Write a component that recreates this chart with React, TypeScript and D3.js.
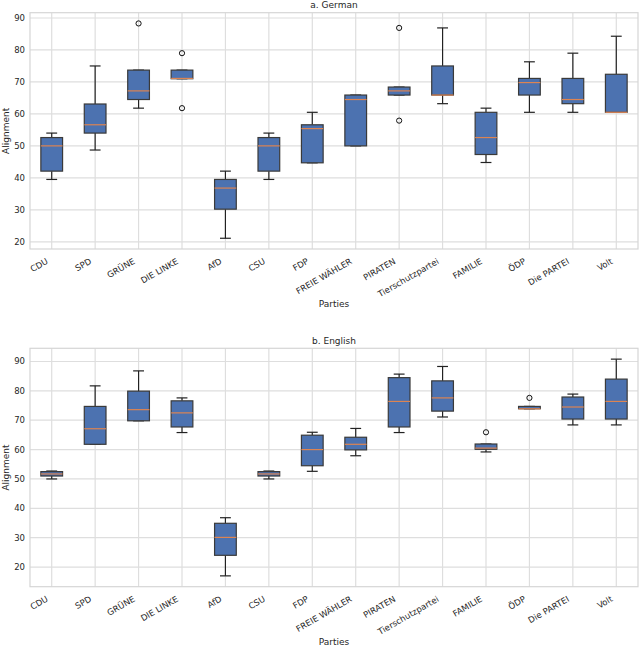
import React, { useRef, useEffect } from 'react';
import * as d3 from 'd3';

const parties = ['CDU', 'SPD', 'GRÜNE', 'DIE LINKE', 'AfD', 'CSU', 'FDP', 'FREIE WÄHLER', 'PIRATEN', 'Tierschutzpartei', 'FAMILIE', 'ÖDP', 'Die PARTEI', 'Volt'];

// German panel
const deLow = [39.5, 48.7, 61.8, 71.0, 21.1, 39.5, 44.7, 50.0, 65.9, 63.2, 44.8, 60.5, 60.5, 60.5];
const deQ1 = [42.1, 54.0, 64.5, 71.0, 30.2, 42.1, 44.7, 50.0, 65.9, 65.9, 47.3, 65.9, 63.2, 60.5];
const deMed = [50.0, 56.6, 67.2, 71.1, 36.8, 50.0, 55.4, 64.5, 67.2, 65.9, 52.6, 69.8, 64.5, 60.5];
const deQ3 = [52.6, 63.1, 73.7, 73.7, 39.5, 52.6, 56.6, 65.9, 68.4, 75.0, 60.5, 71.1, 71.1, 72.4];
const deHigh = [54.0, 75.0, 73.7, 73.7, 42.1, 54.0, 60.5, 65.9, 68.4, 86.9, 61.8, 76.3, 79.0, 84.3];
const deOut = [[], [], [88.3], [79.0, 61.8], [], [], [], [], [86.9, 57.9], [], [], [], [], []];

// English panel
const enLow = [50.0, 61.8, 69.8, 65.8, 17.0, 50.0, 52.6, 57.9, 65.8, 71.1, 59.2, 73.9, 68.4, 68.4];
const enQ1 = [51.0, 61.8, 69.8, 67.7, 24.0, 51.0, 54.5, 59.9, 67.7, 73.1, 60.1, 73.9, 70.4, 70.4];
const enMed = [51.7, 67.1, 73.6, 72.5, 30.1, 51.7, 60.0, 61.8, 76.4, 77.6, 60.5, 73.9, 74.5, 76.4];
const enQ3 = [52.5, 74.7, 79.9, 76.6, 34.9, 52.5, 64.9, 64.2, 84.5, 83.4, 61.9, 74.7, 77.9, 84.0];
const enHigh = [52.7, 81.7, 86.8, 77.6, 36.8, 52.7, 65.9, 67.2, 85.7, 88.3, 61.9, 74.7, 78.9, 90.8];
const enOut = [[], [], [], [], [], [], [], [], [], [], [65.9], [77.6], [], []];

const yTicks = [20, 30, 40, 50, 60, 70, 80, 90];

const FONT = 'DejaVu Sans, sans-serif';

function drawPanel(
  g: d3.Selection<SVGGElement, unknown, null, undefined>,
  title: string,
  top: number,
  bottom: number,
  low: number[], q1: number[], med: number[], q3: number[], high: number[], out: number[][]
) {
  const left = 30, right = 638;
  const allVals = [...low, ...high, ...out.flat()];
  const mn = d3.min(allVals)!, mx = d3.max(allVals)!;
  const pad = (mx - mn) * 0.05;
  const y = d3.scaleLinear().domain([mn - pad, mx + pad]).range([bottom, top]);
  const x = d3.scaleLinear().domain([0.5, parties.length + 0.5]).range([left, right]);
  const bw = (x(1) - x(0)) * 0.5;

  // grid
  g.append('g').selectAll('line').data(yTicks).join('line')
    .attr('x1', left).attr('x2', right)
    .attr('y1', d => y(d)).attr('y2', d => y(d))
    .attr('stroke', '#dedede').attr('stroke-width', 1.2);
  g.append('g').selectAll('line').data(parties).join('line')
    .attr('x1', (d, i) => x(i + 1)).attr('x2', (d, i) => x(i + 1))
    .attr('y1', top).attr('y2', bottom)
    .attr('stroke', '#dedede').attr('stroke-width', 1.2);
  g.append('rect')
    .attr('x', left).attr('y', top).attr('width', right - left).attr('height', bottom - top)
    .attr('fill', 'none').attr('stroke', '#d5d5d5').attr('stroke-width', 1.2);

  // y tick labels
  g.append('g').selectAll('text').data(yTicks).join('text')
    .attr('x', left - 5).attr('y', d => y(d)).attr('dy', '0.35em')
    .attr('text-anchor', 'end').attr('font-size', 8.5).attr('fill', '#262626')
    .attr('font-family', FONT).text(d => d);

  // x tick labels
  g.append('g').selectAll('text').data(parties).join('text')
    .attr('transform', (d, i) => `translate(${x(i + 1) - 3},${bottom + 14}) rotate(-30)`)
    .attr('text-anchor', 'end')
    .attr('font-size', 8.5).attr('fill', '#262626').attr('font-family', FONT)
    .text(d => d);

  // titles
  g.append('text').attr('x', (left + right) / 2).attr('y', top - 4.5)
    .attr('text-anchor', 'middle').attr('font-size', 9).attr('fill', '#262626')
    .attr('font-family', FONT).text(title);
  g.append('text').attr('x', (left + right) / 2).attr('y', bottom + 58)
    .attr('text-anchor', 'middle').attr('font-size', 9).attr('fill', '#262626')
    .attr('font-family', FONT).text('Parties');
  g.append('text')
    .attr('transform', `translate(8.5,${(top + bottom) / 2}) rotate(-90)`)
    .attr('text-anchor', 'middle').attr('font-size', 9).attr('fill', '#262626')
    .attr('font-family', FONT).text('Alignment');

  const boxes = g.append('g').selectAll('g').data(parties).join('g');
  // whiskers
  boxes.append('line')
    .attr('x1', (d, i) => x(i + 1)).attr('x2', (d, i) => x(i + 1))
    .attr('y1', (d, i) => y(q3[i])).attr('y2', (d, i) => y(high[i]))
    .attr('stroke', '#222').attr('stroke-width', 1.2);
  boxes.append('line')
    .attr('x1', (d, i) => x(i + 1)).attr('x2', (d, i) => x(i + 1))
    .attr('y1', (d, i) => y(q1[i])).attr('y2', (d, i) => y(low[i]))
    .attr('stroke', '#222').attr('stroke-width', 1.2);
  // caps
  boxes.append('line')
    .attr('x1', (d, i) => x(i + 1) - bw / 4).attr('x2', (d, i) => x(i + 1) + bw / 4)
    .attr('y1', (d, i) => y(high[i])).attr('y2', (d, i) => y(high[i]))
    .attr('stroke', '#222').attr('stroke-width', 1.2);
  boxes.append('line')
    .attr('x1', (d, i) => x(i + 1) - bw / 4).attr('x2', (d, i) => x(i + 1) + bw / 4)
    .attr('y1', (d, i) => y(low[i])).attr('y2', (d, i) => y(low[i]))
    .attr('stroke', '#222').attr('stroke-width', 1.2);
  // box
  boxes.append('rect')
    .attr('x', (d, i) => x(i + 1) - bw / 2).attr('width', bw)
    .attr('y', (d, i) => y(q3[i]))
    .attr('height', (d, i) => Math.max(y(q1[i]) - y(q3[i]), 1))
    .attr('fill', '#4c72b0').attr('stroke', '#3a3a3a').attr('stroke-width', 1.2);
  // median
  boxes.append('line')
    .attr('x1', (d, i) => x(i + 1) - bw / 2).attr('x2', (d, i) => x(i + 1) + bw / 2)
    .attr('y1', (d, i) => y(med[i])).attr('y2', (d, i) => y(med[i]))
    .attr('stroke', '#dd8452').attr('stroke-width', 1.2);
  // outliers
  boxes.each(function (d, i) {
    d3.select(this).selectAll('circle').data(out[i]).join('circle')
      .attr('cx', x(i + 1)).attr('cy', v => y(v)).attr('r', 2.6)
      .attr('fill', 'none').attr('stroke', '#111').attr('stroke-width', 1);
  });
}

const App: React.FC = () => {
  const ref = useRef<SVGSVGElement>(null);

  useEffect(() => {
    document.body.style.margin = '0';
    const svg = d3.select(ref.current);
    svg.selectAll('*').remove();
    svg.append('rect').attr('width', 640).attr('height', 646).attr('fill', '#fff');
    drawPanel(svg.append('g'), 'a. German', 12.7, 249, deLow, deQ1, deMed, deQ3, deHigh, deOut);
    drawPanel(svg.append('g'), 'b. English', 348.3, 586.7, enLow, enQ1, enMed, enQ3, enHigh, enOut);
  }, []);

  return <svg ref={ref} width={640} height={646} style={{ display: 'block' }}></svg>;
};

export default App;
